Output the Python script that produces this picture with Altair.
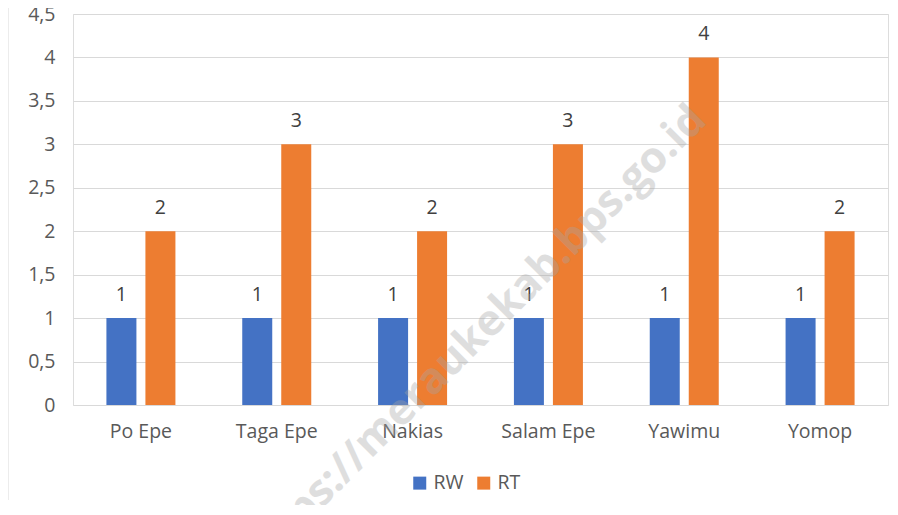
import altair as alt
import pandas as pd

categories = ["Po Epe", "Taga Epe", "Nakias", "Salam Epe", "Yawimu", "Yomop"]
series = ["RW", "RT"]
rw_values = [1, 1, 1, 1, 1, 1]
rt_values = [2, 3, 2, 3, 4, 2]
y_ticks = [0, 0.5, 1, 1.5, 2, 2.5, 3, 3.5, 4, 4.5]
colors = ["#4472C4", "#ED7D31"]
watermark = "https://meraukekab.bps.go.id"

rows = []
for c, a, b in zip(categories, rw_values, rt_values):
    rows.append({"cat": c, "series": "RW", "value": a})
    rows.append({"cat": c, "series": "RT", "value": b})
df = pd.DataFrame(rows)

FONT = "Open Sans"
FS = 19.5
TXT = "#595959"

x_enc = alt.X("cat:N", sort=categories, title=None,
              scale=alt.Scale(paddingInner=0.492, paddingOuter=0.246),
              axis=alt.Axis(labelAngle=0, labelFontSize=FS, labelColor=TXT, labelFont=FONT,
                            ticks=False, domain=False, labelPadding=17))
xoff = alt.XOffset("series:N", sort=series,
                   scale=alt.Scale(paddingInner=0.2308, paddingOuter=0))
y_enc = alt.Y("value:Q", title=None,
              scale=alt.Scale(domain=[0, 4.5], nice=False),
              axis=alt.Axis(values=y_ticks, labelFontSize=FS, labelColor=TXT, labelFont=FONT,
                            ticks=False, domain=False, grid=True, gridColor="#d9d9d9",
                            labelPadding=18,
                            labelExpr="replace(format(datum.value, ''), '.', ',')"))

bars = alt.Chart(df).mark_bar().encode(
    x=x_enc, xOffset=xoff, y=y_enc,
    color=alt.Color("series:N", sort=series,
                    scale=alt.Scale(domain=series, range=colors),
                    legend=alt.Legend(orient="none", legendX=337, legendY=459,
                                      direction="horizontal", title=None,
                                      symbolType="square", symbolSize=169,
                                      symbolStrokeWidth=0,
                                      labelFontSize=FS, labelColor=TXT, labelFont=FONT,
                                      labelOffset=4, columnPadding=10, padding=0)),
)

labels = alt.Chart(df).mark_text(baseline="bottom", dy=-13, fontSize=FS, color="#404040", font=FONT).encode(
    x=alt.X("cat:N", sort=categories), xOffset=alt.XOffset("series:N", sort=series),
    y="value:Q", text="value:Q",
)

wm = alt.Chart(pd.DataFrame({"t": [watermark]})).mark_text(
    angle=315, align="right", baseline="middle", fontSize=43, fontWeight="bold",
    font="Open Sans", color="#a6a6a6", opacity=0.36,
).encode(x=alt.value(626), y=alt.value(99), text="t:N")

frame = alt.Chart(pd.DataFrame({"a": [0]})).mark_rule(color="#d9d9d9", strokeWidth=1).encode(
    x=alt.value(-65), y=alt.value(-6), y2=alt.value(486))

chart = alt.layer(bars, labels, wm, frame).properties(
    width=815, height=391,
    autosize=alt.AutoSizeParams(type="none"),
    padding={"left": 65, "top": 6, "right": 2, "bottom": 100},
).configure_view(stroke=None).configure(background="white")

chart.save("out.html", embed_options={"renderer": "svg", "actions": False})
